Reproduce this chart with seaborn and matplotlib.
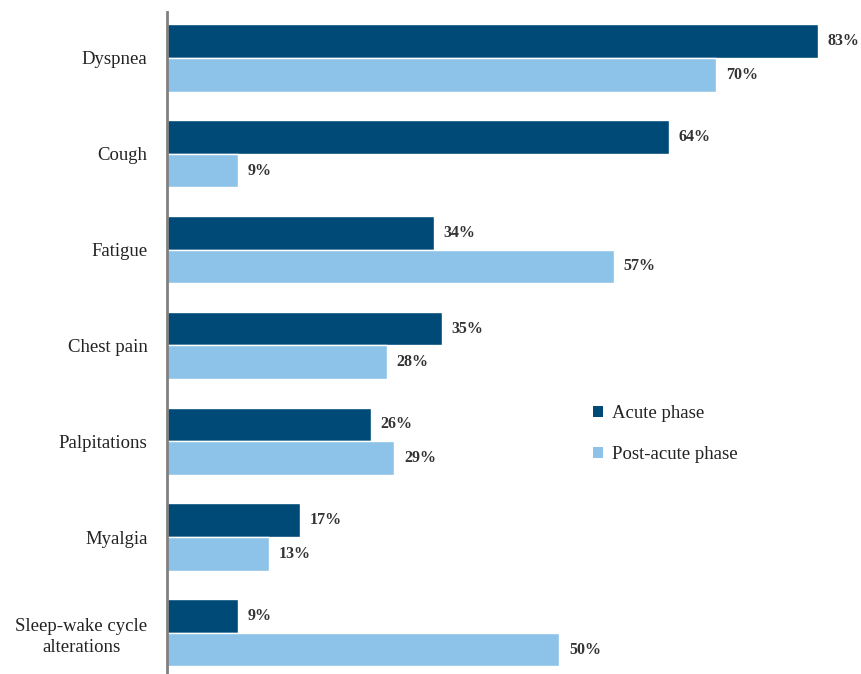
import matplotlib
matplotlib.use("Agg")
import matplotlib.pyplot as plt
import seaborn as sns
import pandas as pd
from matplotlib.patches import Patch

categories = ["Dyspnea", "Cough", "Fatigue", "Chest pain", "Palpitations",
              "Myalgia", "Sleep-wake cycle\nalterations"]
acute = [83, 64, 34, 35, 26, 17, 9]
post_acute = [70, 9, 57, 28, 29, 13, 50]
series = ["Acute phase", "Post-acute phase"]
colors = ["#004A78", "#8DC3E8"]

df = pd.DataFrame({
    "Symptom": categories * 2,
    "Value": acute + post_acute,
    "Phase": [series[0]] * len(categories) + [series[1]] * len(categories),
})

sns.set_theme(style="white")
plt.rcParams["font.family"] = ["Liberation Serif", "DejaVu Serif"]

fig = plt.figure(figsize=(8.62, 6.74), dpi=100)
ax = fig.add_axes([167 / 862, 0.0, (862 - 167) / 862, (674 - 12) / 674])

sns.barplot(data=df, x="Value", y="Symptom", hue="Phase", order=categories,
            hue_order=series, palette=colors, width=0.7, saturation=1,
            orient="h", ax=ax, legend=False)

for cont in ax.containers:
    ax.bar_label(cont, labels=[f"{v:.0f}%" for v in cont.datavalues],
                 padding=7, fontsize=11.5, fontweight="bold", color="#333333")

ax.set_xlim(0, 88.6)
ax.set_ylim(6.43, -0.48)
ax.set_xlabel("")
ax.set_ylabel("")
ax.set_xticks([])
ax.tick_params(axis="y", length=0, pad=14, labelsize=13.5, labelcolor="#222222")
for lab in ax.get_yticklabels():
    lab.set_multialignment("center")
    lab.set_linespacing(1.35)
for s in ["top", "right", "bottom"]:
    ax.spines[s].set_visible(False)
ax.spines["left"].set_color("#808080")
ax.spines["left"].set_linewidth(2)

handles = [Patch(facecolor=c, edgecolor="none") for c in colors]
fig.legend(handles, series, loc="upper left", bbox_to_anchor=(576 / 862, 1 - 388 / 674),
           frameon=False, fontsize=13.5, handlelength=0.55, handleheight=0.55,
           handletextpad=0.45, labelspacing=1.3, labelcolor="#222222")

fig.savefig("out.png", dpi=100)
